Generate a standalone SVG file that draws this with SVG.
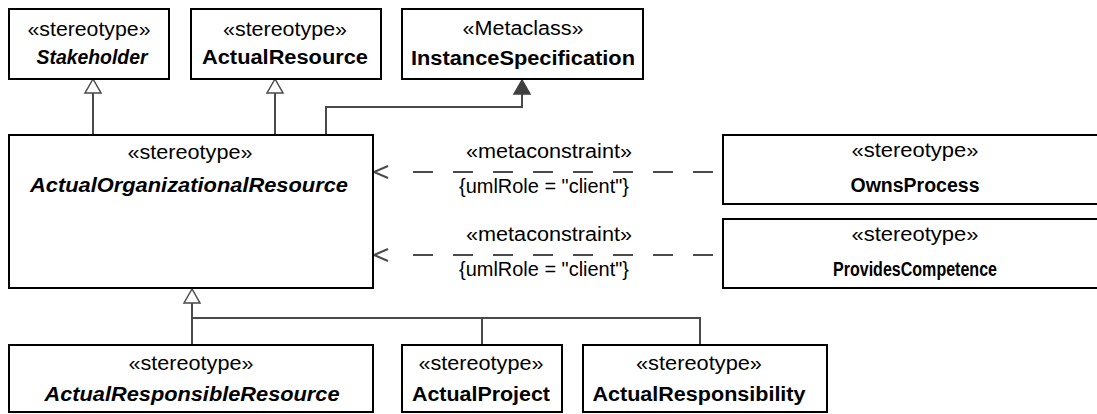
<svg xmlns="http://www.w3.org/2000/svg" width="1097" height="414" viewBox="0 0 1097 414">
<style>
.box{fill:#fff;stroke:#000;stroke-width:2}
text{font-family:"Liberation Sans",Arial,sans-serif;font-size:20px;fill:#000;text-anchor:middle}
.nm{font-weight:bold}
.it{font-style:italic}
.ln{fill:none;stroke:#4a4a4a;stroke-width:2}
.dash{fill:none;stroke:#4a4a4a;stroke-width:2;stroke-dasharray:20 20}
.hollow{fill:#fff;stroke:#4a4a4a;stroke-width:1.5}
.filled{fill:#404040;stroke:#404040;stroke-width:1.5}
</style>
<g id="connectors">
<line class="ln" x1="93" y1="135" x2="93" y2="93"/>
<polygon class="hollow" points="93,79 85,93 101,93"/>
<line class="ln" x1="275" y1="135" x2="275" y2="93"/>
<polygon class="hollow" points="275,79 267,93 283,93"/>
<polyline class="ln" points="326,135 326,107 522,107 522,94"/>
<polygon class="filled" points="522,80 514,94 530,94"/>
<line class="dash" x1="713" y1="172" x2="413" y2="172"/>
<polyline class="ln" points="388,166 374,172 388,178"/>
<text x="549" y="158" textLength="166" lengthAdjust="spacingAndGlyphs">«metaconstraint»</text>
<text x="544" y="193" textLength="170" lengthAdjust="spacingAndGlyphs">{umlRole = "client"}</text>
<line class="dash" x1="713" y1="255" x2="413" y2="255"/>
<polyline class="ln" points="388,249 374,255 388,261"/>
<text x="549" y="241" textLength="166" lengthAdjust="spacingAndGlyphs">«metaconstraint»</text>
<text x="544" y="276" textLength="170" lengthAdjust="spacingAndGlyphs">{umlRole = "client"}</text>
<polygon class="hollow" points="192,289 184,303 200,303"/>
<line class="ln" x1="192" y1="303" x2="192" y2="345"/>
<polyline class="ln" points="192,318 700,318 700,345"/>
<line class="ln" x1="482" y1="318" x2="482" y2="345"/>
</g>
<g id="stakeholder">
<rect class="box" x="9" y="9" width="160" height="70"/>
<text x="89" y="36" textLength="123" lengthAdjust="spacingAndGlyphs">«stereotype»</text>
<text class="nm it" x="92" y="64" textLength="111" lengthAdjust="spacingAndGlyphs">Stakeholder</text>
</g>
<g id="actualResource">
<rect class="box" x="191" y="9" width="190" height="70"/>
<text x="285" y="36" textLength="124" lengthAdjust="spacingAndGlyphs">«stereotype»</text>
<text class="nm" x="285" y="64" textLength="166" lengthAdjust="spacingAndGlyphs">ActualResource</text>
</g>
<g id="instanceSpecification">
<rect class="box" x="402" y="9" width="241" height="70"/>
<text x="523" y="35" textLength="121" lengthAdjust="spacingAndGlyphs">«Metaclass»</text>
<text class="nm" x="523" y="65" textLength="224" lengthAdjust="spacingAndGlyphs">InstanceSpecification</text>
</g>
<g id="actualOrganizationalResource">
<rect class="box" x="9" y="135" width="364" height="153"/>
<text x="190" y="159" textLength="125" lengthAdjust="spacingAndGlyphs">«stereotype»</text>
<text class="nm it" x="189" y="192" textLength="318" lengthAdjust="spacingAndGlyphs">ActualOrganizationalResource</text>
</g>
<g id="ownsProcess">
<rect class="box" x="723" y="135" width="390" height="69"/>
<text x="915" y="157" textLength="127" lengthAdjust="spacingAndGlyphs">«stereotype»</text>
<text class="nm" x="915" y="192" textLength="129" lengthAdjust="spacingAndGlyphs">OwnsProcess</text>
</g>
<g id="providesCompetence">
<rect class="box" x="723" y="219" width="390" height="69"/>
<text x="915" y="241" textLength="127" lengthAdjust="spacingAndGlyphs">«stereotype»</text>
<text class="nm" x="915" y="276" textLength="164" lengthAdjust="spacingAndGlyphs">ProvidesCompetence</text>
</g>
<g id="actualResponsibleResource">
<rect class="box" x="9" y="345" width="364" height="67"/>
<text x="191" y="370" textLength="125" lengthAdjust="spacingAndGlyphs">«stereotype»</text>
<text class="nm it" x="192" y="401" textLength="295" lengthAdjust="spacingAndGlyphs">ActualResponsibleResource</text>
</g>
<g id="actualProject">
<rect class="box" x="402" y="345" width="160" height="67"/>
<text x="481" y="370" textLength="125" lengthAdjust="spacingAndGlyphs">«stereotype»</text>
<text class="nm" x="481" y="401" textLength="138" lengthAdjust="spacingAndGlyphs">ActualProject</text>
</g>
<g id="actualResponsibility">
<rect class="box" x="583" y="345" width="244" height="67"/>
<text x="699" y="370" textLength="126" lengthAdjust="spacingAndGlyphs">«stereotype»</text>
<text class="nm" x="699" y="401" textLength="213" lengthAdjust="spacingAndGlyphs">ActualResponsibility</text>
</g>
</svg>
